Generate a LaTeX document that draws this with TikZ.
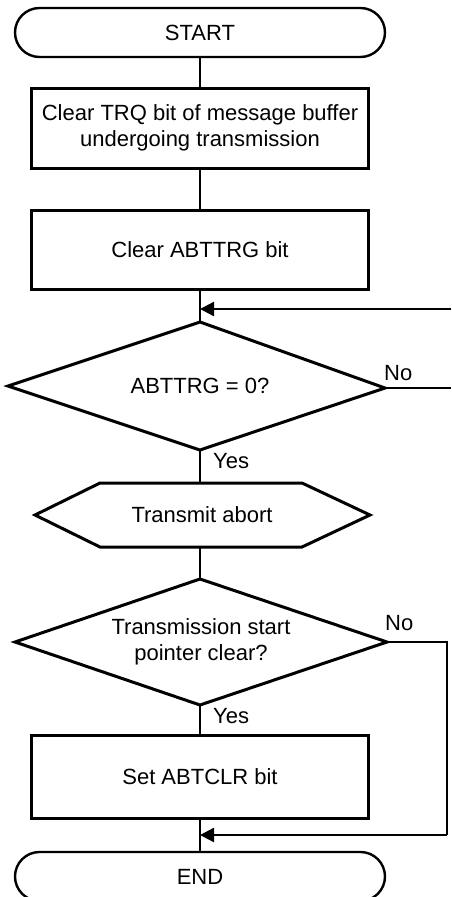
\documentclass[tikz,border=0pt]{standalone}
\usepackage{fontspec}
\setmainfont{Liberation Sans}
\usetikzlibrary{shapes.misc,arrows.meta}
\begin{document}
\begin{tikzpicture}[x=1pt,y=-1pt,
  every node/.style={font=\fontsize{22}{26}\selectfont, inner sep=0pt, align=center},
  term/.style={rounded rectangle, draw, line width=2.4pt, minimum width=370pt, minimum height=49pt},
  proc/.style={rectangle, draw, line width=3pt, minimum width=337pt, minimum height=80pt},
  shapeline/.style={line width=3pt, line join=miter},
  conn/.style={line width=1.1pt},
  back/.style={line width=2.4pt, -{Triangle[length=14pt,width=14pt]}},
  lbl/.style={font=\fontsize{22}{26}\selectfont}
]
\useasboundingbox (0,0) rectangle (451,897);
\clip (0,0) rectangle (451,897);

\node[term] (start) at (200,32.5) {START};
\node[proc] (b1) at (200,128) {Clear TRQ bit of message buffer\\undergoing transmission};
\node[proc, minimum height=79pt] (b2) at (200,249.5) {Clear ABTTRG bit};

% decision 1
\node (d1) at (200,386) {ABTTRG = 0?};
\coordinate (d1t) at (200,322);
\coordinate (d1b) at (200,450);
\coordinate (d1l) at (8,386);
\coordinate (d1r) at (385,388);
\draw[shapeline] (d1t) -- (d1r) -- (d1b) -- (d1l) -- cycle;

% hexagon
\node (hex) at (202,515) {Transmit abort};
\coordinate (hxt) at (200,483);
\coordinate (hxb) at (200,547);
\draw[shapeline] (100,483) -- (302,483) -- (370,515) -- (302,547) -- (100,547) -- (35,515) -- cycle;

% decision 2
\node (d2) at (201,642) {Transmission start\\pointer clear?};
\coordinate (d2t) at (200,579);
\coordinate (d2b) at (200,705);
\coordinate (d2l) at (15,642);
\coordinate (d2r) at (387,642);
\draw[shapeline] (d2t) -- (d2r) -- (d2b) -- (d2l) -- cycle;

\node[proc, minimum height=83pt] (b3) at (200,776.5) {Set ABTCLR bit};
\node[term] (end) at (200,876.5) {END};

\coordinate (m1) at (200,309);
\coordinate (r1) at (451,309);
\coordinate (r2) at (451,388);
\coordinate (c1) at (447,642);
\coordinate (c2) at (447,835);
\coordinate (m2) at (200,835);

\draw[conn] (start.south) -- (b1.north);
\draw[conn] (b1.south) -- (b2.north);
\draw[conn] (b2.south) -- (d1t);
\draw[back] (r1) -- (m1);
\draw[conn] (d1r) -- (r2);
\draw[conn] (d1b) -- (hxt);
\draw[conn] (hxb) -- (d2t);
\draw[conn] (d2r) -- (c1) -- (c2);
\draw[back] (c2) -- (m2);
\draw[conn] (d2b) -- (b3.north);
\draw[conn] (b3.south) -- (end.north);

\node[lbl, anchor=base west] (no1) at (384,380) {No};
\node[lbl, anchor=base west] (yes1) at (213,468) {Yes};
\node[lbl, anchor=base west] (no2) at (385,630) {No};
\node[lbl, anchor=base west] (yes2) at (213,723) {Yes};
\end{tikzpicture}
\end{document}
